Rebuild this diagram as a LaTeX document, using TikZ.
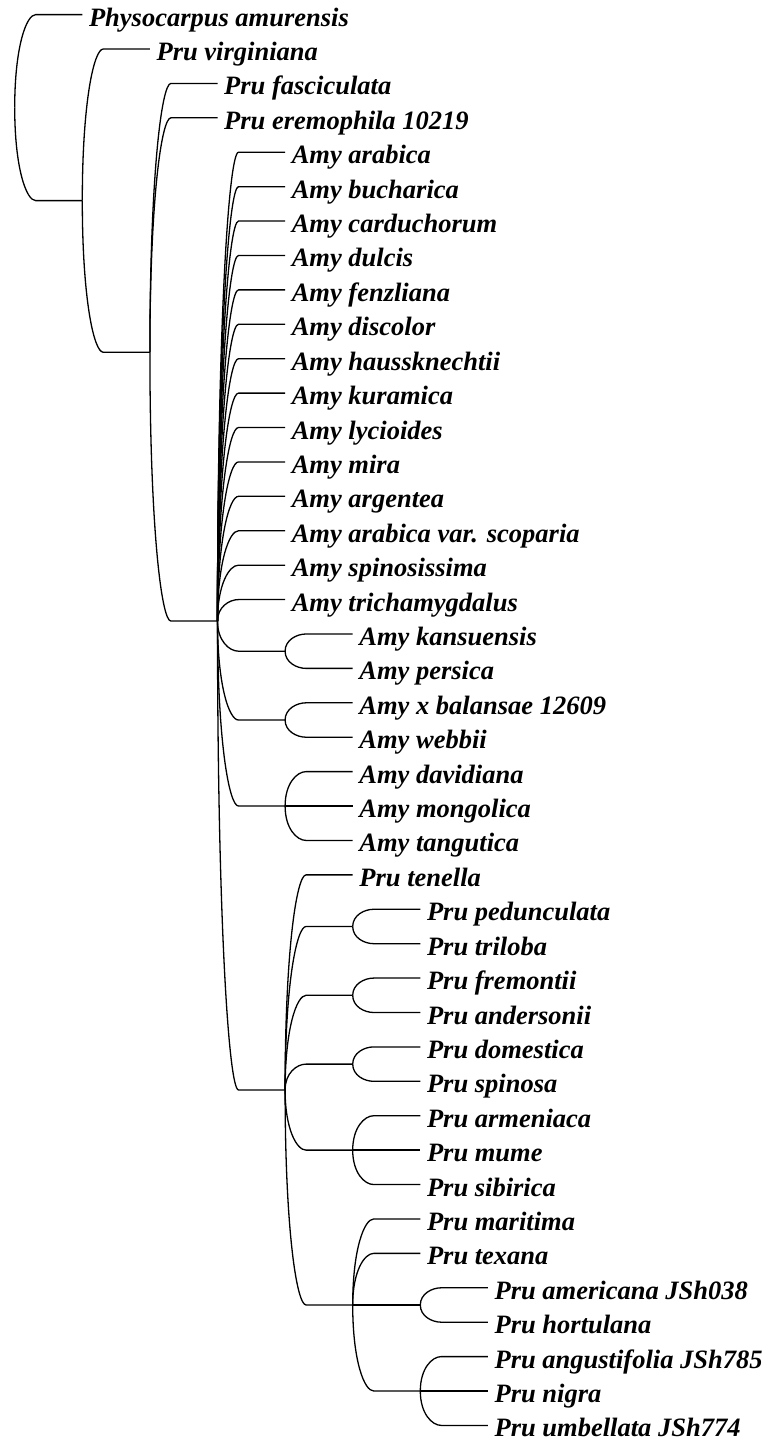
\documentclass[tikz,border=0pt]{standalone}
\usepackage{fontspec}
\setmainfont{Liberation Serif}
\usetikzlibrary{calc}
\newcommand\cc{21pt}
\newcommand\lf[4]{\node[leaf] (#1) at ({14.7+67.6*#3},{-(14.6+34.41*(#2-1))}) {#4};}
\newcommand\inn[3]{\coordinate (#1) at ({14.7+67.6*#3},{-(14.6+34.41*(#2-1))});}
\newcommand\ed[2]{\draw[branch] let \p1=(#1), \p2=(#2) in (\p1) .. controls (\x1,{\y1+0.65*(\y2-\y1)}) and ({\x1+0.55*\cc},\y2) .. ({\x1+\cc},\y2) -- (\p2);}
\begin{document}
\begin{tikzpicture}[x=1pt,y=1pt,
  leaf/.style={anchor=west,inner xsep=6.5pt,inner ysep=0pt,text height=23pt,text depth=0pt,
    font=\fontsize{26.5}{30}\selectfont\bfseries\itshape},
  branch/.style={line width=1.3pt,black}]
\useasboundingbox (0,0) rectangle (768,-1443);
% internal nodes
\inn{root}{3.703125}{0}
\inn{nA}{6.40625}{1}
\inn{nB}{10.8125}{2}
\inn{nC}{18.625}{3}
\inn{nKP}{19.5}{4}
\inn{nBW}{21.5}{4}
\inn{nDMT}{24}{4}
\inn{nP}{32.25}{4}
\inn{nPT}{27.5}{5}
\inn{nFA}{29.5}{5}
\inn{nDS}{31.5}{5}
\inn{nAMS}{34}{5}
\inn{nM}{38.5}{5}
\inn{nAH}{38.5}{6}
\inn{nANU}{41}{6}
% leaves
\lf{L1}{1}{1}{Physocarpus amurensis}
\lf{L2}{2}{2}{Pru virginiana}
\lf{L3}{3}{3}{Pru fasciculata}
\lf{L4}{4}{3}{Pru eremophila 10219}
\lf{L5}{5}{4}{Amy arabica}
\lf{L6}{6}{4}{Amy bucharica}
\lf{L7}{7}{4}{Amy carduchorum}
\lf{L8}{8}{4}{Amy dulcis}
\lf{L9}{9}{4}{Amy fenzliana}
\lf{L10}{10}{4}{Amy discolor}
\lf{L11}{11}{4}{Amy haussknechtii}
\lf{L12}{12}{4}{Amy kuramica}
\lf{L13}{13}{4}{Amy lycioides}
\lf{L14}{14}{4}{Amy mira}
\lf{L15}{15}{4}{Amy argentea}
\lf{L16}{16}{4}{Amy arabica var. scoparia}
\lf{L17}{17}{4}{Amy spinosissima}
\lf{L18}{18}{4}{Amy trichamygdalus}
\lf{L19}{19}{5}{Amy kansuensis}
\lf{L20}{20}{5}{Amy persica}
\lf{L21}{21}{5}{Amy x balansae 12609}
\lf{L22}{22}{5}{Amy webbii}
\lf{L23}{23}{5}{Amy davidiana}
\lf{L24}{24}{5}{Amy mongolica}
\lf{L25}{25}{5}{Amy tangutica}
\lf{L26}{26}{5}{Pru tenella}
\lf{L27}{27}{6}{Pru pedunculata}
\lf{L28}{28}{6}{Pru triloba}
\lf{L29}{29}{6}{Pru fremontii}
\lf{L30}{30}{6}{Pru andersonii}
\lf{L31}{31}{6}{Pru domestica}
\lf{L32}{32}{6}{Pru spinosa}
\lf{L33}{33}{6}{Pru armeniaca}
\lf{L34}{34}{6}{Pru mume}
\lf{L35}{35}{6}{Pru sibirica}
\lf{L36}{36}{6}{Pru maritima}
\lf{L37}{37}{6}{Pru texana}
\lf{L38}{38}{7}{Pru americana JSh038}
\lf{L39}{39}{7}{Pru hortulana}
\lf{L40}{40}{7}{Pru angustifolia JSh785}
\lf{L41}{41}{7}{Pru nigra}
\lf{L42}{42}{7}{Pru umbellata JSh774}
% edges
\ed{root}{L1.west}
\ed{root}{nA}
\ed{nA}{L2.west}
\ed{nA}{nB}
\ed{nB}{L3.west}
\ed{nB}{L4.west}
\ed{nB}{nC}
\foreach \i in {5,...,18}{\ed{nC}{L\i.west}}
\ed{nC}{nKP}
\ed{nC}{nBW}
\ed{nC}{nDMT}
\ed{nC}{nP}
\ed{nKP}{L19.west}
\ed{nKP}{L20.west}
\ed{nBW}{L21.west}
\ed{nBW}{L22.west}
\ed{nDMT}{L23.west}
\ed{nDMT}{L24.west}
\ed{nDMT}{L25.west}
\ed{nP}{L26.west}
\ed{nP}{nPT}
\ed{nP}{nFA}
\ed{nP}{nDS}
\ed{nP}{nAMS}
\ed{nP}{nM}
\ed{nPT}{L27.west}
\ed{nPT}{L28.west}
\ed{nFA}{L29.west}
\ed{nFA}{L30.west}
\ed{nDS}{L31.west}
\ed{nDS}{L32.west}
\ed{nAMS}{L33.west}
\ed{nAMS}{L34.west}
\ed{nAMS}{L35.west}
\ed{nM}{L36.west}
\ed{nM}{L37.west}
\ed{nM}{nAH}
\ed{nM}{nANU}
\ed{nAH}{L38.west}
\ed{nAH}{L39.west}
\ed{nANU}{L40.west}
\ed{nANU}{L41.west}
\ed{nANU}{L42.west}
\end{tikzpicture}
\end{document}
